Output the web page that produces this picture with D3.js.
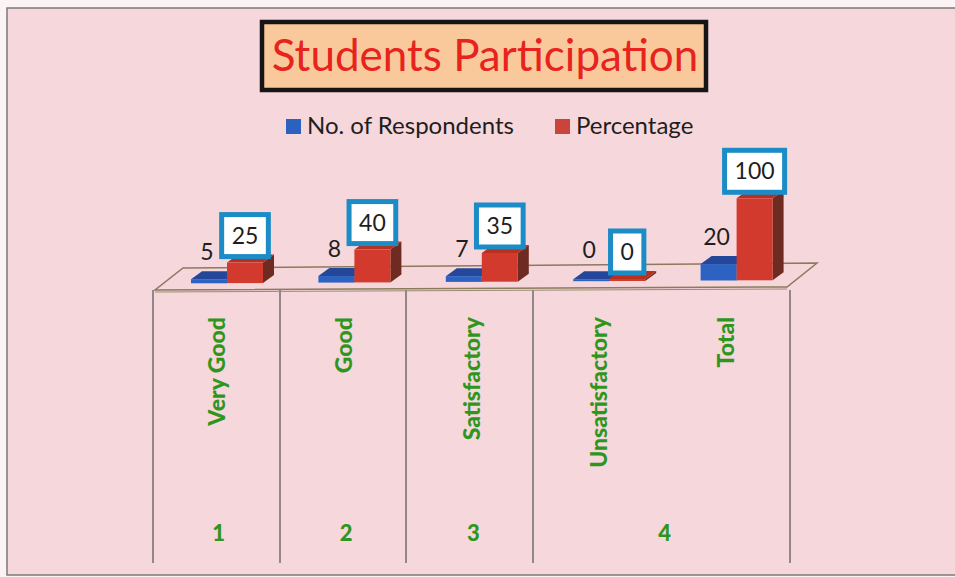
<!DOCTYPE html>
<html lang="en">
<head>
<meta charset="UTF-8">
<title>Students Participation</title>
<script src="https://d3js.org/d3.v7.min.js"></script>
<style>
  body { margin: 0; background: #fbf3f4; }
  svg text { font-family: Lato, "Open Sans", sans-serif; }
</style>
</head>
<body>
<svg id="chart" width="955" height="577"></svg>
<script>
// data
var categories = ["Very Good", "Good", "Satisfactory", "Unsatisfactory", "Total"];
var respondents = [5, 8, 7, 0, 20];
var percentage = [25, 40, 35, 0, 100];
var rowNumbers = ["1", "2", "3", "4"];
var seriesNames = ["No. of Respondents", "Percentage"];

var svg = d3.select("#chart");

// paper + frame
svg.append("rect")
    .attr("x", 7).attr("y", 8)
    .attr("width", 960).attr("height", 567)
    .attr("fill", "#f6d7dc")
    .attr("stroke", "#7a7a7a")
    .attr("stroke-width", 1.5);

// title box
svg.append("rect")
    .attr("x", 262).attr("y", 22)
    .attr("width", 444).attr("height", 68)
    .attr("fill", "#f9c99c")
    .attr("stroke", "#151515")
    .attr("stroke-width", 4.5);

svg.append("text")
    .attr("x", 485).attr("y", 71)
    .attr("text-anchor", "middle")
    .attr("fill", "#e8231d")
    .style("font-size", "44px")
    .text("Students Participation");

// legend
var legendColors = ["#2b62c0", "#c9443b"];
var legendX = [286, 555];
seriesNames.forEach(function(name, i) {
  svg.append("rect")
      .attr("x", legendX[i]).attr("y", 119)
      .attr("width", 15).attr("height", 15)
      .attr("fill", legendColors[i]);
  svg.append("text")
      .attr("x", legendX[i] + 21).attr("y", 134)
      .attr("fill", "#1e1e1e")
      .style("font-size", "24px")
      .text(name);
});

// scales
var x = d3.scaleBand()
    .domain(categories)
    .range([153, 790]);

var y = d3.scaleLinear()
    .domain([0, 100])
    .range([0, 82]);

// floor baseline tilts a little to the right
var baseY = d3.scaleLinear().domain([153, 790]).range([283.5, 280]);

var depthX = 11, depthY = -8;
var barW = 36;

// table lines below the floor
var gridX = [153, 280, 406, 533, 790];
svg.selectAll("line.grid")
    .data(gridX)
    .enter().append("line")
    .attr("class", "grid")
    .attr("x1", function(d) { return d; })
    .attr("x2", function(d) { return d; })
    .attr("y1", 290)
    .attr("y2", 563)
    .attr("stroke", "#6e6e6e")
    .attr("stroke-width", 1.5);

// floor
svg.append("path")
    .attr("d", "M155,290 L787,287 L817,263 L183,268 Z")
    .attr("fill", "#f5d6da")
    .attr("stroke", "#8b7a5c")
    .attr("stroke-width", 1.5);
svg.append("line")
    .attr("x1", 155).attr("y1", 292)
    .attr("x2", 787).attr("y2", 289)
    .attr("stroke", "#9a8c70")
    .attr("stroke-width", 1);

function bar3d(g, x0, value, colors) {
  var b = baseY(x0);
  var h = Math.max(y(value), 2);
  var t = b - h;
  // side
  g.append("path")
      .attr("d", "M" + (x0 + barW) + "," + b + " L" + (x0 + barW + depthX) + "," + (b + depthY) +
                 " L" + (x0 + barW + depthX) + "," + (t + depthY) + " L" + (x0 + barW) + "," + t + " Z")
      .attr("fill", colors[2]);
  // top
  g.append("path")
      .attr("d", "M" + x0 + "," + t + " L" + (x0 + depthX) + "," + (t + depthY) +
                 " L" + (x0 + barW + depthX) + "," + (t + depthY) + " L" + (x0 + barW) + "," + t + " Z")
      .attr("fill", colors[1]);
  // front
  g.append("rect")
      .attr("x", x0).attr("y", t)
      .attr("width", barW).attr("height", h)
      .attr("fill", colors[0]);
  return t;
}

var blueCols = ["#2c62c2", "#24479a", "#1d3c80"];
var redCols = ["#d13a2c", "#b9301f", "#6f2a22"];

var bars = svg.append("g");
categories.forEach(function(c, i) {
  var bx = x(c) + 38;
  var rx = bx + barW;
  var bt = bar3d(bars, bx, respondents[i], blueCols);
  var rt = bar3d(bars, rx, percentage[i], redCols);

  // respondents label
  bars.append("text")
      .attr("x", bx + barW / 2 - 2)
      .attr("y", Math.min(bt, baseY(bx) - 4) - 19)
      .attr("text-anchor", "middle")
      .attr("fill", "#1e1e1e")
      .style("font-size", "23px")
      .text(respondents[i]);

  // percentage label in box
  var lbl = bars.append("g");
  var txt = lbl.append("text")
      .attr("x", rx + barW / 2)
      .attr("y", rt - 6 - 13)
      .attr("text-anchor", "middle")
      .attr("fill", "#1e1e1e")
      .style("font-size", "23px")
      .text(percentage[i]);
  var w = txt.node().getComputedTextLength() + 20;
  lbl.insert("rect", "text")
      .attr("x", rx + barW / 2 - w / 2)
      .attr("y", rt - 6 - 42)
      .attr("width", w)
      .attr("height", 42)
      .attr("fill", "#ffffff")
      .attr("stroke", "#1b8cc6")
      .attr("stroke-width", 5);
});

// rotated category labels
svg.selectAll("text.cat")
    .data(categories)
    .enter().append("text")
    .attr("class", "cat")
    .attr("transform", function(d) {
      return "translate(" + (x(d) + x.bandwidth() / 2 + 8) + ",317) rotate(-90)";
    })
    .attr("text-anchor", "end")
    .attr("fill", "#2f961d")
    .style("font-size", "23px")
    .style("font-weight", "900")
    .text(function(d) { return d; });

// row numbers
var numX = [x(categories[0]) + x.bandwidth() / 2,
            x(categories[1]) + x.bandwidth() / 2,
            x(categories[2]) + x.bandwidth() / 2,
            (x(categories[3]) + x(categories[4]) + x.bandwidth()) / 2];
svg.selectAll("text.num")
    .data(rowNumbers)
    .enter().append("text")
    .attr("class", "num")
    .attr("x", function(d, i) { return numX[i] + 2; })
    .attr("y", 541)
    .attr("text-anchor", "middle")
    .attr("fill", "#2f961d")
    .style("font-size", "22px")
    .style("font-weight", "900")
    .text(function(d) { return d; });
</script>
</body>
</html>
